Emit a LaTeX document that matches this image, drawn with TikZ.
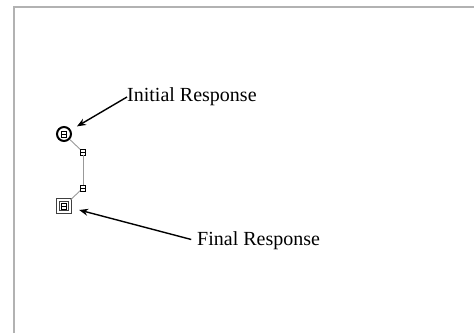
\documentclass[tikz,border=0pt]{standalone}
\usepackage{fontspec}
\setmainfont{Liberation Serif}
\usetikzlibrary{arrows.meta}
\begin{document}
\begin{tikzpicture}[x=1pt,y=-1pt,
  glyph/.style={draw, line width=0.7pt, inner sep=0pt, minimum width=5pt, minimum height=6pt,
    path picture={\draw[line width=0.6pt] (path picture bounding box.west) -- (path picture bounding box.east);}},
  startnode/.style={circle, draw, line width=2pt, minimum size=14pt, inner sep=0pt},
  endnode/.style={rectangle, draw=black!75, double=white, double distance=1.8pt, line width=0.9pt, minimum size=12pt, inner sep=0pt},
  link/.style={draw=black!40, line width=0.9pt},
  callout/.style={-{Stealth[length=9pt,width=7pt]}, line width=1.4pt},
  lbl/.style={font=\fontsize{20}{20}\selectfont, inner sep=0pt, anchor=west}]
\useasboundingbox (0,0) rectangle (474,333);
\draw[black!30, line width=2pt] (14,333) -- (14,7) -- (474,7);
\node[startnode] (init) at (64,134) {};
\node[glyph] (g1) at (64,134) {};
\node[glyph] (m1) at (83,152) {};
\node[glyph] (m2) at (83,188) {};
\node[endnode] (fin) at (64,206) {};
\node[glyph] (g2) at (64,206) {};
\draw[link] (init) -- (m1);
\draw[link] (m1) -- (m2);
\draw[link] (m2) -- (fin);
\node[lbl] (l1) at (127,97) {Initial Response};
\node[lbl] (l2) at (197,241) {Final Response};
\draw[callout, shorten >=7pt] (l1.west) -- (init);
\draw[callout, shorten >=9pt, shorten <=6pt] (l2.west) -- (fin);
\end{tikzpicture}
\end{document}
